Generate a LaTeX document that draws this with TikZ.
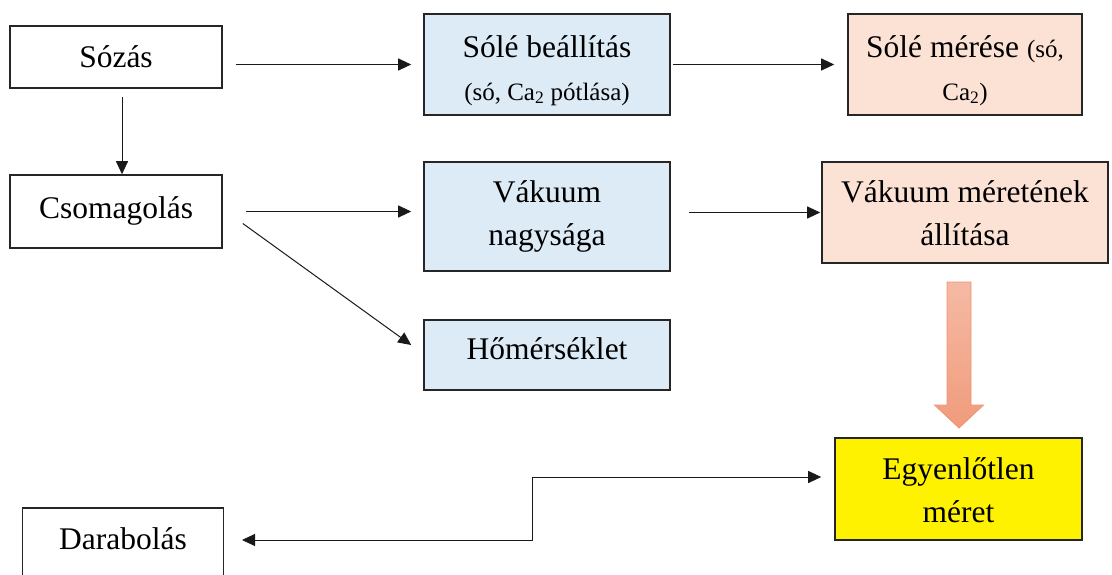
\documentclass[tikz,border=0pt]{standalone}
\usepackage{fontspec}
\setmainfont{Liberation Serif}
\usetikzlibrary{arrows.meta, positioning}
\definecolor{boxblue}{HTML}{DDEBF7}
\definecolor{boxpink}{HTML}{FBE2D5}
\definecolor{arrowtop}{HTML}{F5BAA4}
\definecolor{arrowbot}{HTML}{F19B7C}
\definecolor{arrowline}{HTML}{EE9272}

\tikzset{
  plainbox/.style={draw=black!85, line width=1.6pt, fill=white, align=center,
    font={\fontsize{31.5}{43}\selectfont}, text height=21pt, text depth=0pt, inner sep=0pt},
  bluebox/.style={plainbox, fill=boxblue},
  pinkbox/.style={plainbox, fill=boxpink},
  yellowbox/.style={plainbox, fill=yellow},
  conn/.style={draw=black!90, line width=1pt, -{Triangle[length=13pt,width=12pt]}},
}
\newcommand{\smalltext}{\fontsize{25}{43}\selectfont}

\begin{document}
\begin{tikzpicture}[x=1pt, y=-1pt]
  \useasboundingbox (0,0) rectangle (1112,574);
  \clip (0,0) rectangle (1112,574);

  % left column
  \node[plainbox, minimum width=212pt, minimum height=62pt] (sozas) at (116,57) {Sózás};
  \node[plainbox, minimum width=212pt, minimum height=73pt, text depth=8pt] (csomag) at (116,211.5) {Csomagolás};
  \node[plainbox, minimum width=201pt, text depth=50pt, inner ysep=21pt, anchor=north] (darab) at (123,507) {Darabolás};

  % middle column (two lines: baseline of node is the last line)
  \node[bluebox, text height=71pt, minimum width=246pt, minimum height=101pt] (soleall) at (547,64.5)
    {Sólé beállítás\\{\smalltext (só, Ca\textsubscript{2} pótlása)}};
  \node[bluebox, text height=57pt, minimum width=246pt, minimum height=109pt] (vakuum) at (547,216.5)
    {Vákuum\\nagysága};
  \node[bluebox, minimum width=246pt, minimum height=70pt, text depth=12pt] (homer) at (547,355) {Hőmérséklet};

  % right column
  \node[pinkbox, text height=71pt, minimum width=234pt, minimum height=101pt] (solemer) at (965,64.5)
    {Sólé mérése {\smalltext (só,}\\{\smalltext Ca\textsubscript{2})}};
  \node[pinkbox, text height=65pt, minimum width=286pt, minimum height=101pt] (vakall) at (965,212.5)
    {Vákuum méretének\\állítása};
  \node[yellowbox, text height=66pt, minimum width=247pt, minimum height=102pt] (egyen) at (958.5,489)
    {Egyenlőtlen\\méret};

  % connectors
  \draw[conn] ([xshift=13pt]sozas.east |- soleall.west) -- ([xshift=-12pt]soleall.west);
  \draw[conn] ([xshift=6pt,yshift=-8pt]sozas.south) -- ([xshift=6pt]csomag.north);
  \draw[conn] ([xshift=2pt]soleall.east) -- ([xshift=-13pt]solemer.west);
  \draw[conn] ([xshift=23pt]csomag.east) -- ([xshift=-12pt]vakuum.west |- csomag.east);
  \draw[conn] ([xshift=20pt,yshift=-12pt]csomag.east) -- ([xshift=-12pt,yshift=10pt]homer.west);
  \draw[conn] ([xshift=18pt]vakuum.east |- vakall.west) -- ([xshift=-1pt]vakall.west);

  % step line between Darabolás and Egyenlőtlen méret
  \coordinate (kink) at (532,477);
  \coordinate (darabin) at (243,540);
  \draw[conn] (kink) -- ([xshift=-13pt]egyen.west |- kink);
  \draw[conn, shorten >=-1pt] (kink) |- (darabin);

  % block arrow
  \shade[top color=arrowtop, bottom color=arrowbot, draw=arrowline, line width=0.8pt]
    (947,282) -- (971,282) -- (971,405) -- (983.5,405) -- (959,428) -- (934.5,405) -- (947,405) -- cycle;
\end{tikzpicture}
\end{document}
